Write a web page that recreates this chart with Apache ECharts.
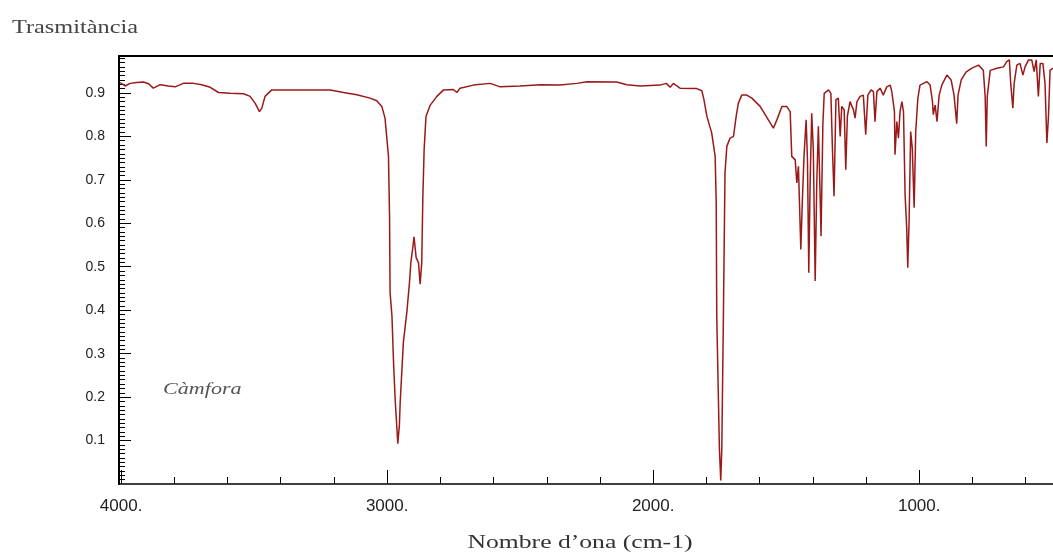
<!DOCTYPE html>
<html>
<head>
<meta charset="utf-8">
<script src="https://cdn.jsdelivr.net/npm/echarts@6/dist/echarts.min.js"></script>
<style>
  html, body { margin: 0; padding: 0; background: #fff; }
  #chart { width: 1053px; height: 556px; }
</style>
</head>
<body>
<div id="chart"></div>
<script>
// espectre IR de la càmfora (llegit de la imatge)
const wavenumbers = [
  4004, 3985, 3966, 3941, 3916, 3897, 3879, 3853, 3822, 3797, 3766, 3728, 3697, 3665, 3634, 3590,
  3540, 3515, 3496, 3480, 3471, 3459, 3434, 3365, 3290, 3214, 3164, 3114, 3064, 3039, 3020, 3008,
  2995, 2991, 2989, 2982, 2976, 2970, 2964, 2960, 2954, 2951, 2939, 2926, 2916, 2911, 2903, 2899,
  2891, 2882, 2876, 2870, 2866, 2861, 2854, 2838, 2813, 2788, 2751, 2738, 2726, 2676, 2613, 2575,
  2500, 2425, 2350, 2287, 2249, 2137, 2099, 2049, 1974, 1951, 1936, 1924, 1911, 1899, 1836, 1817,
  1809, 1798, 1780, 1767, 1763, 1761, 1751, 1746, 1742, 1736, 1730, 1723, 1711, 1698, 1688, 1680,
  1667, 1648, 1629, 1598, 1567, 1548, 1535, 1516, 1498, 1485, 1479, 1466, 1460, 1454, 1450, 1445,
  1439, 1433, 1425, 1420, 1415, 1410, 1404, 1398, 1391, 1385, 1379, 1372, 1369, 1362, 1357, 1341,
  1332, 1326, 1320, 1313, 1304, 1297, 1291, 1282, 1276, 1270, 1260, 1247, 1241, 1234, 1222, 1210,
  1201, 1193, 1181, 1172, 1166, 1159, 1147, 1135, 1122, 1109, 1103, 1093, 1091, 1084, 1078, 1072,
  1065, 1059, 1053, 1047, 1043, 1038, 1032, 1026, 1019, 1013, 1005, 997, 984, 971, 959, 950,
  947, 940, 933, 925, 915, 896, 880, 869, 859, 854, 842, 824, 802, 777, 759, 752,
  748, 744, 733, 708, 683, 671, 661, 656, 648, 643, 633, 621, 610, 602, 589, 577,
  568, 560, 552, 545, 535, 527, 520, 514, 508, 497
];
const transmittance = [
  0.924, 0.916, 0.922, 0.924, 0.925, 0.921, 0.911, 0.919, 0.916, 0.914, 0.922, 0.922, 0.919, 0.913, 0.901, 0.899,
  0.898, 0.892, 0.876, 0.857, 0.865, 0.892, 0.907, 0.907, 0.907, 0.907, 0.901, 0.896, 0.888, 0.882, 0.869, 0.842,
  0.754, 0.616, 0.441, 0.387, 0.280, 0.196, 0.135, 0.093, 0.135, 0.188, 0.326, 0.395, 0.464, 0.509, 0.547, 0.569,
  0.521, 0.509, 0.460, 0.509, 0.655, 0.769, 0.846, 0.872, 0.892, 0.907, 0.908, 0.901, 0.911, 0.918, 0.922, 0.914,
  0.916, 0.919, 0.918, 0.922, 0.926, 0.925, 0.919, 0.916, 0.918, 0.922, 0.913, 0.922, 0.916, 0.911, 0.910, 0.905,
  0.884, 0.846, 0.808, 0.754, 0.647, 0.387, 0.081, 0.008, 0.081, 0.387, 0.716, 0.777, 0.796, 0.800, 0.846, 0.876,
  0.895, 0.895, 0.888, 0.869, 0.838, 0.819, 0.838, 0.869, 0.869, 0.857, 0.754, 0.746, 0.693, 0.731, 0.647, 0.540,
  0.655, 0.754, 0.838, 0.746, 0.486, 0.693, 0.853, 0.769, 0.467, 0.693, 0.823, 0.655, 0.570, 0.830, 0.899, 0.907,
  0.899, 0.769, 0.662, 0.884, 0.888, 0.800, 0.869, 0.861, 0.723, 0.846, 0.880, 0.861, 0.842, 0.880, 0.892, 0.895,
  0.804, 0.895, 0.907, 0.903, 0.834, 0.903, 0.911, 0.895, 0.914, 0.918, 0.903, 0.857, 0.758, 0.834, 0.796, 0.857,
  0.880, 0.857, 0.666, 0.590, 0.498, 0.605, 0.811, 0.773, 0.636, 0.811, 0.888, 0.918, 0.922, 0.926, 0.918, 0.880,
  0.850, 0.872, 0.834, 0.895, 0.918, 0.941, 0.930, 0.895, 0.829, 0.895, 0.930, 0.948, 0.957, 0.964, 0.952, 0.892,
  0.777, 0.892, 0.952, 0.957, 0.960, 0.972, 0.976, 0.922, 0.865, 0.922, 0.964, 0.968, 0.941, 0.960, 0.976, 0.976,
  0.949, 0.976, 0.892, 0.968, 0.968, 0.922, 0.785, 0.846, 0.952, 0.957
];

// etiquetes dels eixos
const xLabels = [1000, 2000, 3000, 4000];
const yLabels = [0.1, 0.2, 0.3, 0.4, 0.5, 0.6, 0.7, 0.8, 0.9];

// marques menors
let xMinor = [];
for (let v = 600; v <= 4000; v += 200) xMinor.push(v);
let yMinor = [];
for (let i = 1; i <= 98; i++) yMinor.push(i / 100);

let points = wavenumbers.map((w, i) => [w, transmittance[i]]);

let myChart = echarts.init(document.getElementById('chart'));
let option = {
    animation: false,
    grid: {
        left: 119,
        top: 56,
        right: 0,
        bottom: 72
    },
    xAxis: [
        {
            type: 'value',
            min: 497,
            max: 4008,
            inverse: true,
            position: 'bottom',
            axisLine: { lineStyle: { color: '#000', width: 1.5 } },
            axisTick: { inside: true, length: 7, customValues: xMinor, lineStyle: { color: '#000' } },
            axisLabel: {
                customValues: xLabels,
                formatter: v => v + '.',
                fontFamily: 'Liberation Sans',
                fontSize: 17,
                color: '#222',
                margin: 14
            },
            splitLine: { show: false }
        },
        {
            // marques grans
            type: 'value',
            min: 497,
            max: 4008,
            inverse: true,
            position: 'bottom',
            axisLine: { show: false },
            axisTick: { inside: true, length: 14, customValues: xLabels, lineStyle: { color: '#000' } },
            axisLabel: { show: false },
            splitLine: { show: false }
        },
        {
            // vora superior
            type: 'value',
            min: 497,
            max: 4008,
            inverse: true,
            position: 'top',
            axisLine: { lineStyle: { color: '#000', width: 2 } },
            axisTick: { show: false },
            axisLabel: { show: false },
            splitLine: { show: false }
        }
    ],
    yAxis: [
        {
            type: 'value',
            min: 0,
            max: 0.985,
            position: 'left',
            axisLine: { show: true, lineStyle: { color: '#000', width: 2 } },
            axisTick: { show: true, inside: true, length: 6, customValues: yMinor, lineStyle: { color: '#000' } },
            axisLabel: {
                customValues: yLabels,
                formatter: v => v.toFixed(1),
                fontFamily: 'Liberation Sans',
                fontSize: 14,
                color: '#222',
                margin: 14
            },
            splitLine: { show: false }
        },
        {
            type: 'value',
            min: 0,
            max: 0.985,
            position: 'left',
            axisLine: { show: false },
            axisTick: { show: true, inside: true, length: 12, customValues: yLabels, lineStyle: { color: '#000' } },
            axisLabel: { show: false },
            splitLine: { show: false }
        }
    ],
    graphic: [
        {
            type: 'text',
            x: 12,
            y: 28,
            scaleX: 1.35,
            style: {
                text: 'Trasmitància',
                font: '18px "Liberation Serif"',
                fill: '#444',
                textVerticalAlign: 'middle'
            }
        },
        {
            type: 'text',
            x: 580,
            y: 543,
            scaleX: 1.35,
            style: {
                text: 'Nombre d\u2019ona (cm-1)',
                font: '19px "Liberation Serif"',
                fill: '#333',
                textAlign: 'center',
                textVerticalAlign: 'middle'
            }
        },
        {
            type: 'text',
            x: 163,
            y: 390,
            scaleX: 1.3,
            style: {
                text: 'Càmfora',
                font: 'italic 17px "Liberation Serif"',
                fill: '#555',
                textVerticalAlign: 'middle'
            }
        }
    ],
    series: [
        {
            name: 'Càmfora',
            type: 'line',
            xAxisIndex: 0,
            yAxisIndex: 0,
            showSymbol: false,
            data: points,
            lineStyle: { color: '#9a1a1a', width: 1.5 },
            clip: true
        }
    ]
};
myChart.setOption(option);
</script>
</body>
</html>
